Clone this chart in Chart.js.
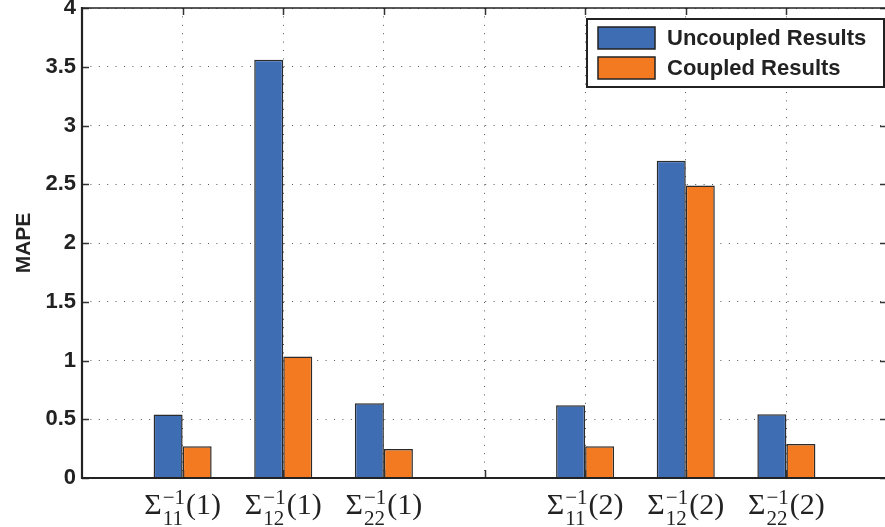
<!DOCTYPE html>
<html>
<head>
<meta charset="utf-8">
<script src="https://cdn.jsdelivr.net/npm/chart.js@4.4.1/dist/chart.umd.min.js"></script>
<style>
  html, body { margin: 0; padding: 0; background: #fff; overflow: hidden; }
  #wrap { width: 885px; height: 527px; overflow: hidden; position: relative; }
  canvas { display: block; }
</style>
</head>
<body>
<div id="wrap"><canvas id="c" width="890" height="527"></canvas></div>
<script>
// ---- data ----
const categories = ['', 'Σ11(1)', 'Σ12(1)', 'Σ22(1)', '', 'Σ11(2)', 'Σ12(2)', 'Σ22(2)', ''];
const uncoupled = [null, 0.54, 3.56, 0.636, null, 0.62, 2.70, 0.543, null];
const coupled   = [null, 0.27, 1.035, 0.247, null, 0.27, 2.49, 0.29, null];
const seriesNames = ['Uncoupled Results', 'Coupled Results'];
const yMin = 0, yMax = 4, yStep = 0.5;
const yTitle = 'MAPE';

const BLUE = '#3e6db4', ORANGE = '#f47a21', DARK = '#222222';

const framePlugin = {
  id: 'frame',
  afterDraw(chart) {
    const ctx = chart.ctx, a = chart.chartArea;
    const xs = chart.scales.x, ys = chart.scales.y;
    ctx.save();
    // inward ticks
    ctx.strokeStyle = '#333'; ctx.lineWidth = 1.5;
    ys.ticks.forEach(t => {
      const y = Math.round(ys.getPixelForValue(t.value)) + 0.5;
      ctx.beginPath(); ctx.moveTo(a.left, y); ctx.lineTo(a.left + 7, y); ctx.stroke();
      ctx.beginPath(); ctx.moveTo(a.right, y); ctx.lineTo(a.right - 7, y); ctx.stroke();
    });
    categories.forEach((c, i) => {
      if (i === 0 || i === categories.length - 1) return;
      const x = Math.round(xs.getPixelForValue(i)) + 0.5;
      ctx.beginPath(); ctx.moveTo(x, a.bottom); ctx.lineTo(x, a.bottom - 8); ctx.stroke();
      ctx.beginPath(); ctx.moveTo(x, a.top); ctx.lineTo(x, a.top + 7); ctx.stroke();
    });
    // frame
    ctx.strokeStyle = DARK;
    ctx.lineWidth = 1.5;
    ctx.beginPath(); ctx.moveTo(a.left, a.top); ctx.lineTo(a.right, a.top); ctx.stroke();
    ctx.lineWidth = 2.2;
    ctx.beginPath(); ctx.moveTo(a.left, a.top - 1); ctx.lineTo(a.left, a.bottom); ctx.lineTo(a.right, a.bottom); ctx.stroke();

    // x tick labels: Sigma with sub/sup
    const mainFont = '30px "Liberation Serif"';
    const scriptFont = '21px "Liberation Serif"';
    ctx.fillStyle = '#222';
    ctx.textBaseline = 'alphabetic';
    ctx.textAlign = 'left';
    categories.forEach((c, i) => {
      const m = /^Σ(\d+)\((\d+)\)$/.exec(c);
      if (!m) return;
      const sub = m[1], sup = '−1', arg = '(' + m[2] + ')';
      ctx.font = mainFont;
      const wS = ctx.measureText('Σ').width;
      const wA = ctx.measureText(arg).width;
      ctx.font = scriptFont;
      const wSub = ctx.measureText(sub).width;
      const wSup = ctx.measureText(sup).width;
      const wScr = Math.max(wSub, wSup) + 1;
      const total = wS + 1 + wScr + wA;
      const cx = xs.getPixelForValue(i);
      let x = cx - total / 2;
      const base = 514;
      ctx.font = mainFont; ctx.fillText('Σ', x, base);
      x += wS + 1;
      ctx.font = scriptFont;
      ctx.fillText(sub, x, base + 11);
      ctx.fillText(sup, x, base - 10);
      x += wScr;
      ctx.font = mainFont; ctx.fillText(arg, x, base);
    });

    // legend
    const bx = a.right - 300, by = a.top + 11, bw = 297, bh = 68;
    ctx.fillStyle = '#fff';
    ctx.fillRect(bx, by, bw, bh);
    ctx.strokeStyle = DARK; ctx.lineWidth = 2;
    ctx.strokeRect(bx, by, bw, bh);
    const cols = [BLUE, ORANGE];
    ctx.font = 'bold 22px "Liberation Sans"';
    ctx.textBaseline = 'middle';
    seriesNames.forEach((n, k) => {
      const ry = by + 8 + k * 30;
      ctx.fillStyle = cols[k];
      ctx.fillRect(bx + 11, ry, 57, 22);
      ctx.strokeStyle = DARK; ctx.lineWidth = 1.5;
      ctx.strokeRect(bx + 11, ry, 57, 22);
      ctx.fillStyle = '#222';
      ctx.fillText(n, bx + 80, ry + 12);
    });
    ctx.restore();
  }
};

new Chart(document.getElementById('c'), {
  type: 'bar',
  data: {
    labels: categories,
    datasets: [
      { label: seriesNames[0], data: uncoupled, backgroundColor: BLUE, borderColor: '#2b2b2b', borderWidth: 1.5, categoryPercentage: 0.577, barPercentage: 1 },
      { label: seriesNames[1], data: coupled, backgroundColor: ORANGE, borderColor: '#2b2b2b', borderWidth: 1.5, categoryPercentage: 0.577, barPercentage: 1 }
    ]
  },
  options: {
    responsive: false,
    devicePixelRatio: 1,
    animation: false,
    layout: { padding: { top: 8, right: 3, left: 0, bottom: 0 } },
    plugins: { legend: { display: false }, tooltip: { enabled: false } },
    scales: {
      x: {
        offset: false,
        grid: { offset: false, color: '#555', lineWidth: 1, drawTicks: false },
        border: { display: false, dash: [1, 7.4] },
        ticks: { display: false },
        afterFit(s) { s.height = 49; s.paddingLeft = 0; s.paddingRight = 0; }
      },
      y: {
        min: yMin, max: yMax,
        ticks: { stepSize: yStep, padding: 6, color: '#222', callback: v => String(v), font: { family: 'Liberation Sans', size: 22, weight: 'bold' } },
        grid: { color: '#555', lineWidth: 1, drawTicks: false },
        border: { display: false, dash: [1, 7.4] },
        title: { display: true, text: yTitle, color: '#222', padding: { top: 12, bottom: 0 }, font: { family: 'Liberation Sans', size: 21, weight: 'bold' } },
        afterFit(s) { s.width = 82; s.paddingTop = 0; s.paddingBottom = 0; }
      }
    }
  },
  plugins: [framePlugin]
});
</script>
</body>
</html>
